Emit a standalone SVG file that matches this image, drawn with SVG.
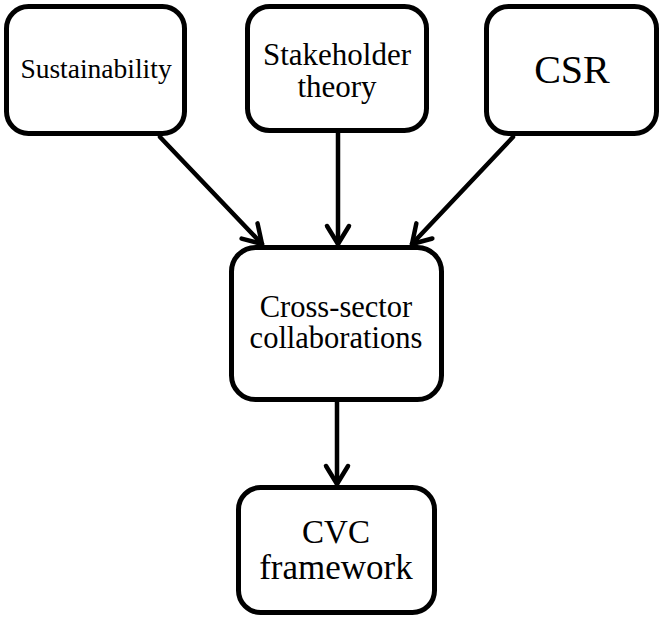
<svg xmlns="http://www.w3.org/2000/svg" width="663" height="618" viewBox="0 0 663 618">
<defs>
<style>
.box{fill:#fff;stroke:#000;stroke-width:5}
.t{font-family:"Liberation Serif","Times New Roman",serif;fill:#000;text-anchor:middle}
.c{stroke:#000;stroke-width:4.5;fill:none;stroke-linecap:round}
</style>
<marker id="arr" markerUnits="userSpaceOnUse" markerWidth="30" markerHeight="30" refX="0" refY="0" orient="auto" style="overflow:visible">
<path d="M-18,-11 L0,0 L-18,11" fill="none" stroke="#000" stroke-width="4.5" stroke-linecap="round" stroke-linejoin="round"/>
</marker>
</defs>
<rect width="663" height="618" fill="#fff"/>
<g id="connectors">
<path class="c" d="M160,137 L262,244" marker-end="url(#arr)"/>
<path class="c" d="M338,133 L338,244" marker-end="url(#arr)"/>
<path class="c" d="M513,137 L412,244" marker-end="url(#arr)"/>
<path class="c" d="M337,402 L337,484" marker-end="url(#arr)"/>
</g>
<g id="sustainability">
<rect class="box" x="6.5" y="6.5" width="178" height="127" rx="22"/>
<text class="t" x="96" y="78" font-size="27.5">Sustainability</text>
</g>
<g id="stakeholder">
<rect class="box" x="247.5" y="6.5" width="179" height="124" rx="22"/>
<text class="t" x="337" y="65" font-size="31">Stakeholder</text>
<text class="t" x="337" y="97" font-size="31">theory</text>
</g>
<g id="csr">
<rect class="box" x="486.5" y="6.5" width="170" height="127" rx="22"/>
<text class="t" x="572" y="83" font-size="40">CSR</text>
</g>
<g id="cross-sector">
<rect class="box" x="231.5" y="247.5" width="210" height="152" rx="24"/>
<text class="t" x="336" y="317" font-size="30.5">Cross-sector</text>
<text class="t" x="336" y="348" font-size="30.5">collaborations</text>
</g>
<g id="cvc">
<rect class="box" x="238.5" y="487.5" width="196" height="125" rx="22"/>
<text class="t" x="336" y="543" font-size="33">CVC</text>
<text class="t" x="336" y="579" font-size="35">framework</text>
</g>
</svg>
